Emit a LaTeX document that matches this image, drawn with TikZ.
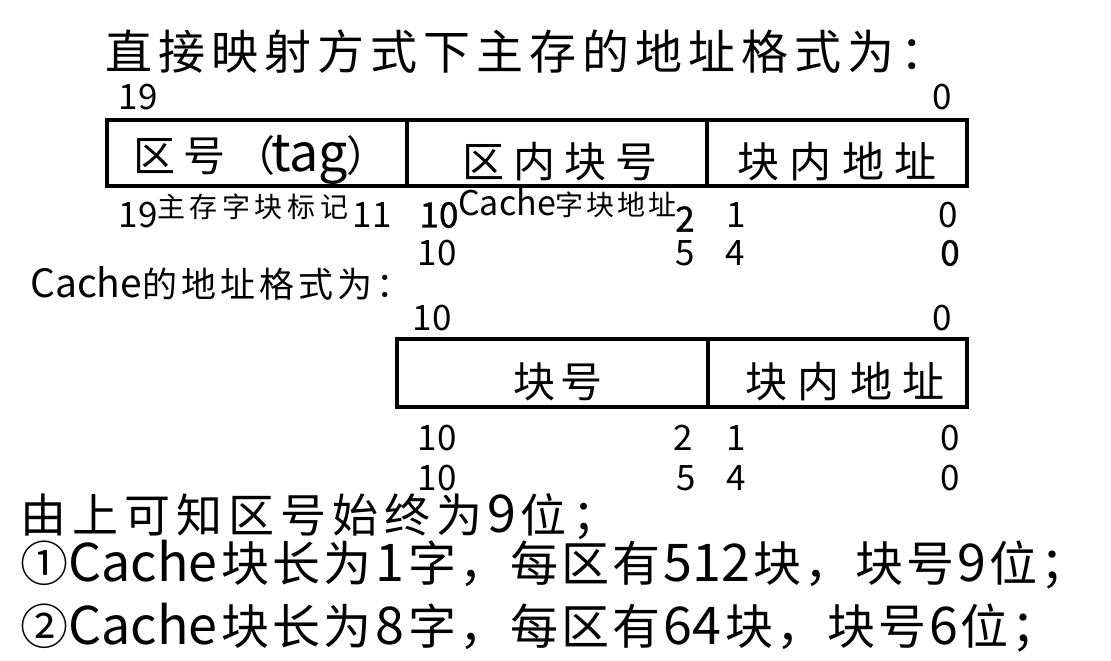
\documentclass[tikz,border=0pt]{standalone}
\usepackage{fontspec}
\setmainfont{Noto Sans CJK SC}
\newfontfamily\bd[FakeBold=1.2]{Noto Sans CJK SC}
\makeatletter
\newcommand\spx[2]{\@tfor\spxch:=#2\do{\spxch\hspace{#1}}\unskip}
\makeatother
\newcommand\fs[1]{\fontsize{#1}{#1}\selectfont}
\newcommand\lt[1]{{\fs{52}#1}}
\begin{document}
\begin{tikzpicture}[x=1pt,y=-1pt,
  num/.style={inner sep=0pt, font=\fs{35}},
  bnum/.style={inner sep=0pt, font=\fs{35}\bd},
  lbl/.style={inner sep=0pt},
  box/.style={draw, line width=4.5pt},
  divider/.style={draw, line width=3.5pt}]
\useasboundingbox[fill=white] (0,0) rectangle (1111,661);

% title
\node[lbl, anchor=west] (title) at (105,52) {\fs{47}\spx{6pt}{直接映射方式下主存的地址格式为：}};

% main memory address box
\draw[box] (107,120) rectangle (967,186);
\draw[divider] (407,120) -- (407,186);
\draw[divider] (707,120) -- (707,186);
\node[lbl, anchor=west] (tag) at (133,160) {\fs{42}\spx{8pt}{区号（}\hspace{-4pt}{\fs{52}tag}\hspace{-2pt}\spx{0pt}{）}};
\node[lbl] (qnkh) at (560,162) {\fs{42}\spx{9pt}{区内块号}};
\node[lbl] (kndz1) at (837,162) {\fs{42}\spx{10.5pt}{块内地址}};

% row A
\node[num] (a19) at (138,97) {19};
\node[num] (a0) at (942,97) {0};
% row B
\node[num] (b19) at (138,215) {19};
\node[lbl, anchor=west] (zcbj) at (157,207) {\fs{28}\spx{4.6pt}{主存字块标记}};
\node[num] (b11) at (372,215) {11};
\node[bnum] (b10) at (439,215) {10};
\node[lbl, anchor=west] (cbdz) at (458,203) {{\fs{34}Cache}\fs{28}\spx{3pt}{字块地址}};
\node[bnum] (b2) at (685,219) {2};
\node[num] (b1) at (736,215) {1};
\node[num] (b0) at (948,215) {0};
% row C
\node[num] (c10) at (437,253) {10};
\node[num] (c5) at (685,253) {5};
\node[num] (c4) at (735,253) {4};
\node[bnum] (c0) at (950,253) {0};

% cache heading
\node[lbl, anchor=west] (cachehd) at (30,283) {{\fs{39}Cache}\fs{35}\spx{4pt}{的地址格式为：}};
% row D
\node[num] (d10) at (432,318) {10};
\node[num] (d0) at (942,318) {0};

% cache address box
\draw[box] (397,339) rectangle (967,407);
\draw[divider] (708,339) -- (708,407);
\node[lbl] (kh) at (558,382) {\fs{42}\spx{6pt}{块号}};
\node[lbl] (kndz2) at (845,382) {\fs{42}\spx{10.5pt}{块内地址}};

% row E
\node[num] (e10) at (437,438) {10};
\node[num] (e2) at (683,438) {2};
\node[num] (e1) at (736,438) {1};
\node[num] (e0) at (950,438) {0};
% row F
\node[num] (f10) at (437,478) {10};
\node[num] (f5) at (686,478) {5};
\node[num] (f4) at (736,478) {4};
\node[num] (f0) at (950,478) {0};

% conclusions
\node[lbl, anchor=west] (s0) at (20,517) {\fs{46}\spx{6pt}{由上可知区号始终为}\hspace{5pt}\lt{9}\hspace{4pt}\spx{6pt}{位；}};
\node[lbl, anchor=west] (s1) at (20,565) {\fs{48}①\lt{Cache}\hspace{4pt}\spx{3pt}{块长为}\hspace{4pt}\lt{1}\hspace{4pt}\spx{3pt}{字，每区有}\hspace{3pt}\lt{512}\hspace{4pt}\spx{3pt}{块，块号}\hspace{3pt}\lt{9}\hspace{3pt}\spx{3pt}{位；}};
\node[lbl, anchor=west] (s2) at (20,628) {\fs{48}②\lt{Cache}\hspace{4pt}\spx{3pt}{块长为}\hspace{4pt}\lt{8}\hspace{4pt}\spx{3pt}{字，每区有}\hspace{3pt}\lt{64}\hspace{4pt}\spx{3pt}{块，块号}\hspace{3pt}\lt{6}\hspace{3pt}\spx{3pt}{位；}};
\end{tikzpicture}
\end{document}
